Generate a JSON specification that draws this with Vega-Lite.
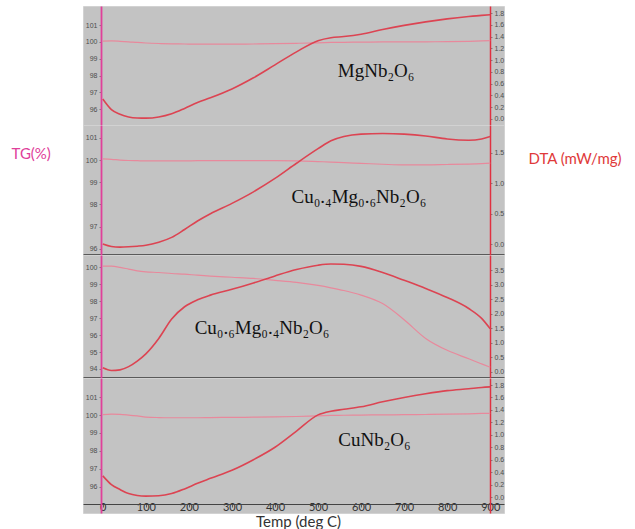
{
  "$schema": "https://vega.github.io/schema/vega-lite/v6.json",
  "background": "white",
  "padding": {"left": 10, "top": 5, "right": 0, "bottom": 0},
  "autosize": {"type": "pad"},
  "bounds": "flush",
  "spacing": 0,
  "config": {
    "view": {"fill": "#c3c3c3", "stroke": "#d2d2d2", "strokeWidth": 1},
    "axis": {"grid": false, "labelFont": "Liberation Sans", "labelFontSize": 7, "labelColor": "#4d4d4d", "tickSize": 2, "tickColor": "#6a6a6a", "tickWidth": 0.8, "labelPadding": 2, "domainColor": "#666"}
  },
  "datasets": {
    "curves": [
      {"s": "MgNb2O6", "T": 0, "TG": 100.05, "DTA": 0.34},
      {"s": "MgNb2O6", "T": 20, "TG": 100.06, "DTA": 0.16},
      {"s": "MgNb2O6", "T": 40, "TG": 100.04, "DTA": 0.08},
      {"s": "MgNb2O6", "T": 60, "TG": 100.01, "DTA": 0.035},
      {"s": "MgNb2O6", "T": 80, "TG": 99.97, "DTA": 0.018},
      {"s": "MgNb2O6", "T": 100, "TG": 99.94, "DTA": 0.015},
      {"s": "MgNb2O6", "T": 130, "TG": 99.91, "DTA": 0.035},
      {"s": "MgNb2O6", "T": 160, "TG": 99.89, "DTA": 0.09},
      {"s": "MgNb2O6", "T": 190, "TG": 99.88, "DTA": 0.18},
      {"s": "MgNb2O6", "T": 220, "TG": 99.87, "DTA": 0.28},
      {"s": "MgNb2O6", "T": 250, "TG": 99.87, "DTA": 0.36},
      {"s": "MgNb2O6", "T": 300, "TG": 99.87, "DTA": 0.51},
      {"s": "MgNb2O6", "T": 350, "TG": 99.88, "DTA": 0.70},
      {"s": "MgNb2O6", "T": 400, "TG": 99.90, "DTA": 0.92},
      {"s": "MgNb2O6", "T": 450, "TG": 99.92, "DTA": 1.14},
      {"s": "MgNb2O6", "T": 500, "TG": 99.95, "DTA": 1.33},
      {"s": "MgNb2O6", "T": 530, "TG": 99.97, "DTA": 1.38},
      {"s": "MgNb2O6", "T": 560, "TG": 99.98, "DTA": 1.40},
      {"s": "MgNb2O6", "T": 600, "TG": 99.99, "DTA": 1.44},
      {"s": "MgNb2O6", "T": 650, "TG": 100.0, "DTA": 1.52},
      {"s": "MgNb2O6", "T": 700, "TG": 100.0, "DTA": 1.59},
      {"s": "MgNb2O6", "T": 750, "TG": 100.01, "DTA": 1.65},
      {"s": "MgNb2O6", "T": 800, "TG": 100.02, "DTA": 1.70},
      {"s": "MgNb2O6", "T": 850, "TG": 100.04, "DTA": 1.74},
      {"s": "MgNb2O6", "T": 880, "TG": 100.06, "DTA": 1.76},
      {"s": "MgNb2O6", "T": 900, "TG": 100.08, "DTA": 1.77},

      {"s": "Cu04", "T": 0, "TG": 100.05, "DTA": 0.0},
      {"s": "Cu04", "T": 20, "TG": 100.03, "DTA": -0.04},
      {"s": "Cu04", "T": 40, "TG": 100.0, "DTA": -0.05},
      {"s": "Cu04", "T": 60, "TG": 99.98, "DTA": -0.045},
      {"s": "Cu04", "T": 80, "TG": 99.97, "DTA": -0.035},
      {"s": "Cu04", "T": 100, "TG": 99.96, "DTA": -0.02},
      {"s": "Cu04", "T": 130, "TG": 99.96, "DTA": 0.03},
      {"s": "Cu04", "T": 160, "TG": 99.96, "DTA": 0.11},
      {"s": "Cu04", "T": 190, "TG": 99.96, "DTA": 0.24},
      {"s": "Cu04", "T": 220, "TG": 99.97, "DTA": 0.38},
      {"s": "Cu04", "T": 250, "TG": 99.97, "DTA": 0.50},
      {"s": "Cu04", "T": 300, "TG": 99.97, "DTA": 0.67},
      {"s": "Cu04", "T": 350, "TG": 99.97, "DTA": 0.86},
      {"s": "Cu04", "T": 400, "TG": 99.97, "DTA": 1.08},
      {"s": "Cu04", "T": 450, "TG": 99.96, "DTA": 1.33},
      {"s": "Cu04", "T": 500, "TG": 99.93, "DTA": 1.57},
      {"s": "Cu04", "T": 530, "TG": 99.91, "DTA": 1.70},
      {"s": "Cu04", "T": 560, "TG": 99.88, "DTA": 1.77},
      {"s": "Cu04", "T": 600, "TG": 99.85, "DTA": 1.81},
      {"s": "Cu04", "T": 650, "TG": 99.81, "DTA": 1.82},
      {"s": "Cu04", "T": 700, "TG": 99.78, "DTA": 1.81},
      {"s": "Cu04", "T": 750, "TG": 99.78, "DTA": 1.78},
      {"s": "Cu04", "T": 800, "TG": 99.80, "DTA": 1.73},
      {"s": "Cu04", "T": 850, "TG": 99.82, "DTA": 1.71},
      {"s": "Cu04", "T": 880, "TG": 99.84, "DTA": 1.73},
      {"s": "Cu04", "T": 900, "TG": 99.86, "DTA": 1.77},

      {"s": "Cu06", "T": 0, "TG": 100.06, "DTA": 0.14},
      {"s": "Cu06", "T": 20, "TG": 100.05, "DTA": 0.05},
      {"s": "Cu06", "T": 40, "TG": 99.98, "DTA": 0.07},
      {"s": "Cu06", "T": 60, "TG": 99.88, "DTA": 0.18},
      {"s": "Cu06", "T": 80, "TG": 99.78, "DTA": 0.37},
      {"s": "Cu06", "T": 100, "TG": 99.72, "DTA": 0.62},
      {"s": "Cu06", "T": 130, "TG": 99.68, "DTA": 1.15},
      {"s": "Cu06", "T": 160, "TG": 99.62, "DTA": 1.82},
      {"s": "Cu06", "T": 190, "TG": 99.58, "DTA": 2.24},
      {"s": "Cu06", "T": 220, "TG": 99.52, "DTA": 2.48},
      {"s": "Cu06", "T": 250, "TG": 99.47, "DTA": 2.64},
      {"s": "Cu06", "T": 300, "TG": 99.40, "DTA": 2.84},
      {"s": "Cu06", "T": 350, "TG": 99.33, "DTA": 3.06},
      {"s": "Cu06", "T": 400, "TG": 99.22, "DTA": 3.30},
      {"s": "Cu06", "T": 450, "TG": 99.10, "DTA": 3.52},
      {"s": "Cu06", "T": 500, "TG": 98.92, "DTA": 3.67},
      {"s": "Cu06", "T": 530, "TG": 98.78, "DTA": 3.71},
      {"s": "Cu06", "T": 560, "TG": 98.62, "DTA": 3.70},
      {"s": "Cu06", "T": 600, "TG": 98.35, "DTA": 3.63},
      {"s": "Cu06", "T": 650, "TG": 97.85, "DTA": 3.42},
      {"s": "Cu06", "T": 700, "TG": 96.90, "DTA": 3.15},
      {"s": "Cu06", "T": 750, "TG": 95.80, "DTA": 2.87},
      {"s": "Cu06", "T": 800, "TG": 95.10, "DTA": 2.56},
      {"s": "Cu06", "T": 850, "TG": 94.60, "DTA": 2.18},
      {"s": "Cu06", "T": 880, "TG": 94.30, "DTA": 1.84},
      {"s": "Cu06", "T": 900, "TG": 94.10, "DTA": 1.48},

      {"s": "CuNb2O6", "T": 0, "TG": 100.02, "DTA": 0.34},
      {"s": "CuNb2O6", "T": 20, "TG": 100.05, "DTA": 0.20},
      {"s": "CuNb2O6", "T": 40, "TG": 100.04, "DTA": 0.12},
      {"s": "CuNb2O6", "T": 60, "TG": 100.0, "DTA": 0.055},
      {"s": "CuNb2O6", "T": 80, "TG": 99.95, "DTA": 0.025},
      {"s": "CuNb2O6", "T": 100, "TG": 99.89, "DTA": 0.015},
      {"s": "CuNb2O6", "T": 130, "TG": 99.86, "DTA": 0.02},
      {"s": "CuNb2O6", "T": 160, "TG": 99.85, "DTA": 0.055},
      {"s": "CuNb2O6", "T": 190, "TG": 99.85, "DTA": 0.13},
      {"s": "CuNb2O6", "T": 220, "TG": 99.85, "DTA": 0.22},
      {"s": "CuNb2O6", "T": 250, "TG": 99.86, "DTA": 0.30},
      {"s": "CuNb2O6", "T": 300, "TG": 99.87, "DTA": 0.43},
      {"s": "CuNb2O6", "T": 350, "TG": 99.88, "DTA": 0.60},
      {"s": "CuNb2O6", "T": 400, "TG": 99.90, "DTA": 0.80},
      {"s": "CuNb2O6", "T": 450, "TG": 99.92, "DTA": 1.06},
      {"s": "CuNb2O6", "T": 500, "TG": 99.96, "DTA": 1.32},
      {"s": "CuNb2O6", "T": 530, "TG": 99.98, "DTA": 1.38},
      {"s": "CuNb2O6", "T": 560, "TG": 99.99, "DTA": 1.41},
      {"s": "CuNb2O6", "T": 600, "TG": 100.0, "DTA": 1.45},
      {"s": "CuNb2O6", "T": 650, "TG": 100.01, "DTA": 1.53},
      {"s": "CuNb2O6", "T": 700, "TG": 100.02, "DTA": 1.60},
      {"s": "CuNb2O6", "T": 750, "TG": 100.03, "DTA": 1.66},
      {"s": "CuNb2O6", "T": 800, "TG": 100.05, "DTA": 1.71},
      {"s": "CuNb2O6", "T": 850, "TG": 100.07, "DTA": 1.74},
      {"s": "CuNb2O6", "T": 880, "TG": 100.09, "DTA": 1.76},
      {"s": "CuNb2O6", "T": 900, "TG": 100.10, "DTA": 1.77}
    ],
    "labels": [
      {"s": "MgNb2O6", "label": "MgNb₂O₆", "T": 635, "TG": 97.92},
      {"s": "Cu04", "label": "Cu₀.₄Mg₀.₆Nb₂O₆", "T": 595, "TG": 98.06},
      {"s": "Cu06", "label": "Cu₀.₆Mg₀.₄Nb₂O₆", "T": 370, "TG": 96.06},
      {"s": "CuNb2O6", "label": "CuNb₂O₆", "T": 631, "TG": 98.27}
    ]
  },
  "vconcat": [
    {
      "width": 421, "height": 119,
      "resolve": {"scale": {"y": "independent"}, "axis": {"y": "independent"}},
      "encoding": {"x": {"field": "T", "type": "quantitative", "scale": {"domain": [-46, 932], "nice": false, "zero": false}, "axis": null}},
      "layer": [
        {"data": {"name": "curves"}, "transform": [{"filter": "datum.s === 'MgNb2O6'"}],
         "mark": {"type": "line", "color": "#e8899c", "strokeWidth": 1.2, "interpolate": "monotone"},
         "encoding": {"y": {"field": "TG", "type": "quantitative", "scale": {"domain": [95.06, 102.14], "nice": false, "zero": false},
           "axis": {"orient": "left", "offset": -18, "values": [96, 97, 98, 99, 100, 101], "format": "d", "title": null, "domainColor": "#e0409a", "domainWidth": 1.8}}}},
        {"data": {"name": "curves"}, "transform": [{"filter": "datum.s === 'MgNb2O6'"}],
         "mark": {"type": "line", "color": "#dc4452", "strokeWidth": 1.6, "interpolate": "monotone"},
         "encoding": {"y": {"field": "DTA", "type": "quantitative", "scale": {"domain": [-0.102, 1.919], "nice": false, "zero": false},
           "axis": {"orient": "right", "offset": -14, "values": [0, 0.2, 0.4, 0.6, 0.8, 1.0, 1.2, 1.4, 1.6, 1.8], "format": ".1f", "title": null, "domainColor": "#e03040", "domainWidth": 1.5}}}},
        {"data": {"name": "labels"}, "transform": [{"filter": "datum.s === 'MgNb2O6'"}],
         "mark": {"type": "text", "font": "Liberation Serif", "fontSize": 19, "color": "#111111", "align": "center", "baseline": "alphabetic"},
         "encoding": {"y": {"field": "TG", "type": "quantitative", "scale": {"domain": [95.06, 102.14], "nice": false, "zero": false}, "axis": null}, "text": {"field": "label"}}}
      ]
    },
    {
      "width": 421, "height": 130,
      "resolve": {"scale": {"y": "independent"}, "axis": {"y": "independent"}},
      "encoding": {"x": {"field": "T", "type": "quantitative", "scale": {"domain": [-46, 932], "nice": false, "zero": false},
        "axis": {"labels": false, "ticks": false, "title": null, "offset": -1, "domainColor": "#5a5a5a", "domainWidth": 1}}},
      "layer": [
        {"data": {"name": "curves"}, "transform": [{"filter": "datum.s === 'Cu04'"}],
         "mark": {"type": "line", "color": "#e8899c", "strokeWidth": 1.2, "interpolate": "monotone"},
         "encoding": {"y": {"field": "TG", "type": "quantitative", "scale": {"domain": [95.72, 101.58], "nice": false, "zero": false},
           "axis": {"orient": "left", "offset": -18, "values": [96, 97, 98, 99, 100, 101], "format": "d", "domainColor": "#e0409a", "domainWidth": 1.8,
             "title": "TG(%)", "titleAngle": 0, "titleAlign": "left", "titleBaseline": "middle", "titleX": -90, "titleY": 28, "titleColor": "#e0409a", "titleFont": "Lato", "titleFontSize": 15, "titleFontWeight": "normal"}}}},
        {"data": {"name": "curves"}, "transform": [{"filter": "datum.s === 'Cu04'"}],
         "mark": {"type": "line", "color": "#dc4452", "strokeWidth": 1.6, "interpolate": "monotone"},
         "encoding": {"y": {"field": "DTA", "type": "quantitative", "scale": {"domain": [-0.18, 1.96], "nice": false, "zero": false},
           "axis": {"orient": "right", "offset": -14, "values": [0, 0.5, 1.0, 1.5], "format": ".1f", "domainColor": "#e03040", "domainWidth": 1.5,
             "title": "DTA (mW/mg)", "titleAngle": 0, "titleAlign": "left", "titleBaseline": "middle", "titleX": 38, "titleY": 33, "titleColor": "#e03a3a", "titleFont": "Lato", "titleFontSize": 15, "titleFontWeight": "normal"}}}},
        {"data": {"name": "labels"}, "transform": [{"filter": "datum.s === 'Cu04'"}],
         "mark": {"type": "text", "font": "Liberation Serif", "fontSize": 19, "color": "#111111", "align": "center", "baseline": "alphabetic"},
         "encoding": {"y": {"field": "TG", "type": "quantitative", "scale": {"domain": [95.72, 101.58], "nice": false, "zero": false}, "axis": null}, "text": {"field": "label"}}}
      ]
    },
    {
      "width": 421, "height": 123,
      "resolve": {"scale": {"y": "independent"}, "axis": {"y": "independent"}},
      "encoding": {"x": {"field": "T", "type": "quantitative", "scale": {"domain": [-46, 932], "nice": false, "zero": false},
        "axis": {"labels": false, "ticks": false, "title": null, "offset": -1, "domainColor": "#5a5a5a", "domainWidth": 1}}},
      "layer": [
        {"data": {"name": "curves"}, "transform": [{"filter": "datum.s === 'Cu06'"}],
         "mark": {"type": "line", "color": "#e8899c", "strokeWidth": 1.2, "interpolate": "monotone"},
         "encoding": {"y": {"field": "TG", "type": "quantitative", "scale": {"domain": [93.47, 100.71], "nice": false, "zero": false},
           "axis": {"orient": "left", "offset": -18, "values": [94, 95, 96, 97, 98, 99, 100], "format": "d", "title": null, "domainColor": "#e0409a", "domainWidth": 1.8}}}},
        {"data": {"name": "curves"}, "transform": [{"filter": "datum.s === 'Cu06'"}],
         "mark": {"type": "line", "color": "#dc4452", "strokeWidth": 1.6, "interpolate": "monotone"},
         "encoding": {"y": {"field": "DTA", "type": "quantitative", "scale": {"domain": [-0.21, 4.02], "nice": false, "zero": false},
           "axis": {"orient": "right", "offset": -14, "values": [0, 0.5, 1.0, 1.5, 2.0, 2.5, 3.0, 3.5], "format": ".1f", "title": null, "domainColor": "#e03040", "domainWidth": 1.5}}}},
        {"data": {"name": "labels"}, "transform": [{"filter": "datum.s === 'Cu06'"}],
         "mark": {"type": "text", "font": "Liberation Serif", "fontSize": 19, "color": "#111111", "align": "center", "baseline": "alphabetic"},
         "encoding": {"y": {"field": "TG", "type": "quantitative", "scale": {"domain": [93.47, 100.71], "nice": false, "zero": false}, "axis": null}, "text": {"field": "label"}}}
      ]
    },
    {
      "width": 421, "height": 135,
      "resolve": {"scale": {"y": "independent"}, "axis": {"y": "independent"}},
      "encoding": {"x": {"field": "T", "type": "quantitative", "scale": {"domain": [-46, 932], "nice": false, "zero": false},
        "axis": {"values": [0, 100, 200, 300, 400, 500, 600, 700, 800, 900], "format": "d", "offset": -9, "domainColor": "#444444", "domainWidth": 1, "tickColor": "#444444", "tickSize": 3,
          "labelFont": "Lato", "labelFontSize": 11, "labelColor": "#333333", "labelPadding": -6,
          "title": "Temp (deg  C)", "titleFont": "Lato", "titleFontSize": 15, "titleFontWeight": "normal", "titleColor": "#333333", "titleX": 215, "titleY": 22, "titleAlign": "center", "titleBaseline": "alphabetic"}}},
      "layer": [
        {"data": {"name": "curves"}, "transform": [{"filter": "datum.s === 'CuNb2O6'"}],
         "mark": {"type": "line", "color": "#e8899c", "strokeWidth": 1.2, "interpolate": "monotone"},
         "encoding": {"y": {"field": "TG", "type": "quantitative", "scale": {"domain": [94.53, 102.07], "nice": false, "zero": false},
           "axis": {"orient": "left", "offset": -18, "values": [96, 97, 98, 99, 100, 101], "format": "d", "title": null, "domainColor": "#e0409a", "domainWidth": 1.8}}}},
        {"data": {"name": "curves"}, "transform": [{"filter": "datum.s === 'CuNb2O6'"}],
         "mark": {"type": "line", "color": "#dc4452", "strokeWidth": 1.6, "interpolate": "monotone"},
         "encoding": {"y": {"field": "DTA", "type": "quantitative", "scale": {"domain": [-0.257, 1.913], "nice": false, "zero": false},
           "axis": {"orient": "right", "offset": -14, "values": [0, 0.2, 0.4, 0.6, 0.8, 1.0, 1.2, 1.4, 1.6, 1.8], "format": ".1f", "title": null, "domainColor": "#e03040", "domainWidth": 1.5}}}},
        {"data": {"name": "labels"}, "transform": [{"filter": "datum.s === 'CuNb2O6'"}],
         "mark": {"type": "text", "font": "Liberation Serif", "fontSize": 19, "color": "#111111", "align": "center", "baseline": "alphabetic"},
         "encoding": {"y": {"field": "TG", "type": "quantitative", "scale": {"domain": [94.53, 102.07], "nice": false, "zero": false}, "axis": null}, "text": {"field": "label"}}}
      ]
    }
  ]
}
